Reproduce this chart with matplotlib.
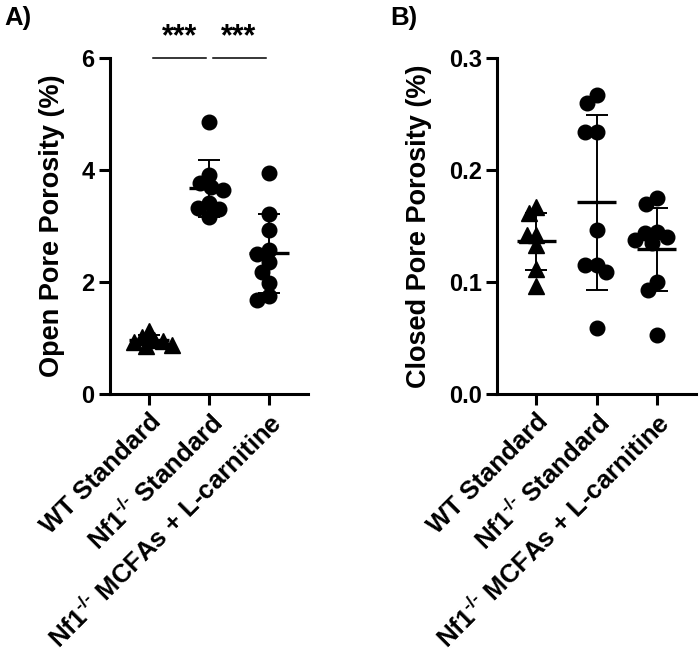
import numpy as np
import matplotlib
matplotlib.use("Agg")
import matplotlib.pyplot as plt

plt.rcParams['font.family'] = ['Liberation Sans', 'DejaVu Sans']
plt.rcParams['font.weight'] = 'bold'
plt.rcParams['mathtext.fontset'] = 'custom'
plt.rcParams['mathtext.rm'] = 'Liberation Sans:bold'
plt.rcParams['mathtext.bf'] = 'Liberation Sans:bold'
plt.rcParams['mathtext.it'] = 'Liberation Sans:bold'

categories = ["WT Standard",
              r"Nf1$^{\text{-/-}}$ Standard",
              r"Nf1$^{\text{-/-}}$ MCFAs + L-carnitine"]

open_wt = [1.12, 1.02, 0.97, 0.92, 0.86, 0.88, 0.95]
open_nf1 = [4.86, 3.91, 3.77, 3.70, 3.64, 3.41, 3.32, 3.30, 3.16]
open_mcfa = [3.95, 3.21, 2.93, 2.57, 2.50, 2.35, 2.18, 1.98, 1.75, 1.68]

closed_wt = [0.167, 0.162, 0.142, 0.142, 0.133, 0.112, 0.096]
closed_nf1 = [0.267, 0.260, 0.234, 0.234, 0.146, 0.115, 0.109, 0.115, 0.059]
closed_mcfa = [0.175, 0.170, 0.145, 0.144, 0.140, 0.1375, 0.135, 0.100, 0.093, 0.053]

open_ticks = [0, 2, 4, 6]
closed_ticks = [0.0, 0.1, 0.2, 0.3]
open_labels = ["0", "2", "4", "6"]
closed_labels = ["0.0", "0.1", "0.2", "0.3"]
sig_pairs = [(0, 1, "***"), (1, 2, "***")]

W, H = 700, 656
fig = plt.figure(figsize=(W / 100, H / 100), dpi=100)

def px_axes(l, t, r, b):
    return fig.add_axes([l / W, 1 - b / H, (r - l) / W, (b - t) / H])

axA = px_axes(110, 58, 308, 394)
axB = px_axes(497, 58, 696, 394)


def swarm(values, ax, diam_px):
    fig.canvas.draw()
    trans = ax.transData
    ys = np.array([trans.transform((0, v))[1] for v in values])
    x0 = trans.transform((0, 0))[0]
    x1 = trans.transform((1, 0))[0]
    unit = x1 - x0
    order = np.argsort(-ys)
    placed = []
    offs = np.zeros(len(values))
    for i in order:
        y = ys[i]
        cands = [0.0]
        for (px, py) in placed:
            dy = abs(py - y)
            if dy < diam_px:
                dx = np.sqrt(diam_px ** 2 - dy ** 2)
                cands += [px + dx, px - dx]
        cands = sorted(cands, key=lambda c: (abs(c), c))
        best = 0.0
        for c in cands:
            ok = all((c - px) ** 2 + (y - py) ** 2 >= diam_px ** 2 - 1e-6 for (px, py) in placed)
            if ok:
                best = c
                break
        placed.append((best, y))
        offs[i] = best / unit
    return offs


def draw_panel(ax, groups, markers, ylim, ticks, ticklabels, ylabel):
    ax.set_xlim(-0.655, 2.655)
    ax.set_ylim(*ylim)
    for s in ['top', 'right']:
        ax.spines[s].set_visible(False)
    for s in ['left', 'bottom']:
        ax.spines[s].set_linewidth(2.2)
    ax.set_yticks(ticks)
    ax.set_yticklabels(ticklabels, fontsize=17, fontweight='bold')
    ax.set_xticks(range(len(categories)))
    ax.set_xticklabels(categories, rotation=45, ha='right', va='top',
                       rotation_mode='anchor', fontsize=18.5, fontweight='bold')
    ax.tick_params(axis='both', width=2.2, length=8, pad=3)
    ax.set_ylabel(ylabel, fontsize=19.5, fontweight='bold', labelpad=12)
    for i, (vals, m) in enumerate(zip(groups, markers)):
        vals = np.array(vals)
        offs = swarm(vals, ax, 9.5 if m == '^' else 12.0)
        ms = 10.5 if m == 'o' else 11
        ax.plot(i + offs, vals, linestyle='none', marker=m, markersize=ms,
                color='black', markeredgecolor='black', zorder=3, clip_on=False)
        mean = vals.mean()
        sd = vals.std(ddof=1)
        ax.errorbar([i], [mean], yerr=[sd], fmt='none', ecolor='black',
                    elinewidth=1.4, capsize=8, capthick=1.4, zorder=4)
        ax.plot([i - 0.33, i + 0.33], [mean, mean], color='black', lw=2.4,
                zorder=4, solid_capstyle='butt')


draw_panel(axA, [open_wt, open_nf1, open_mcfa], ['^', 'o', 'o'], (0, 6),
           open_ticks, open_labels, "Open Pore Porosity (%)")
draw_panel(axB, [closed_wt, closed_nf1, closed_mcfa], ['^', 'o', 'o'], (0, 0.3),
           closed_ticks, closed_labels, "Closed Pore Porosity (%)")

for a, b, txt in sig_pairs:
    axA.plot([a + 0.07, b - 0.05], [6, 6], color='black', lw=1.1, clip_on=False)
    axA.text((a + b) / 2, 6.1, txt, ha='center', va='bottom', fontsize=22,
             fontweight='bold')

fig.text(4 / W, 1 - 6 / H, "A)", ha='left', va='top', fontsize=18.5, fontweight='bold')
fig.text(390 / W, 1 - 6 / H, "B)", ha='left', va='top', fontsize=18.5, fontweight='bold')

fig.savefig("out.png", dpi=100)
